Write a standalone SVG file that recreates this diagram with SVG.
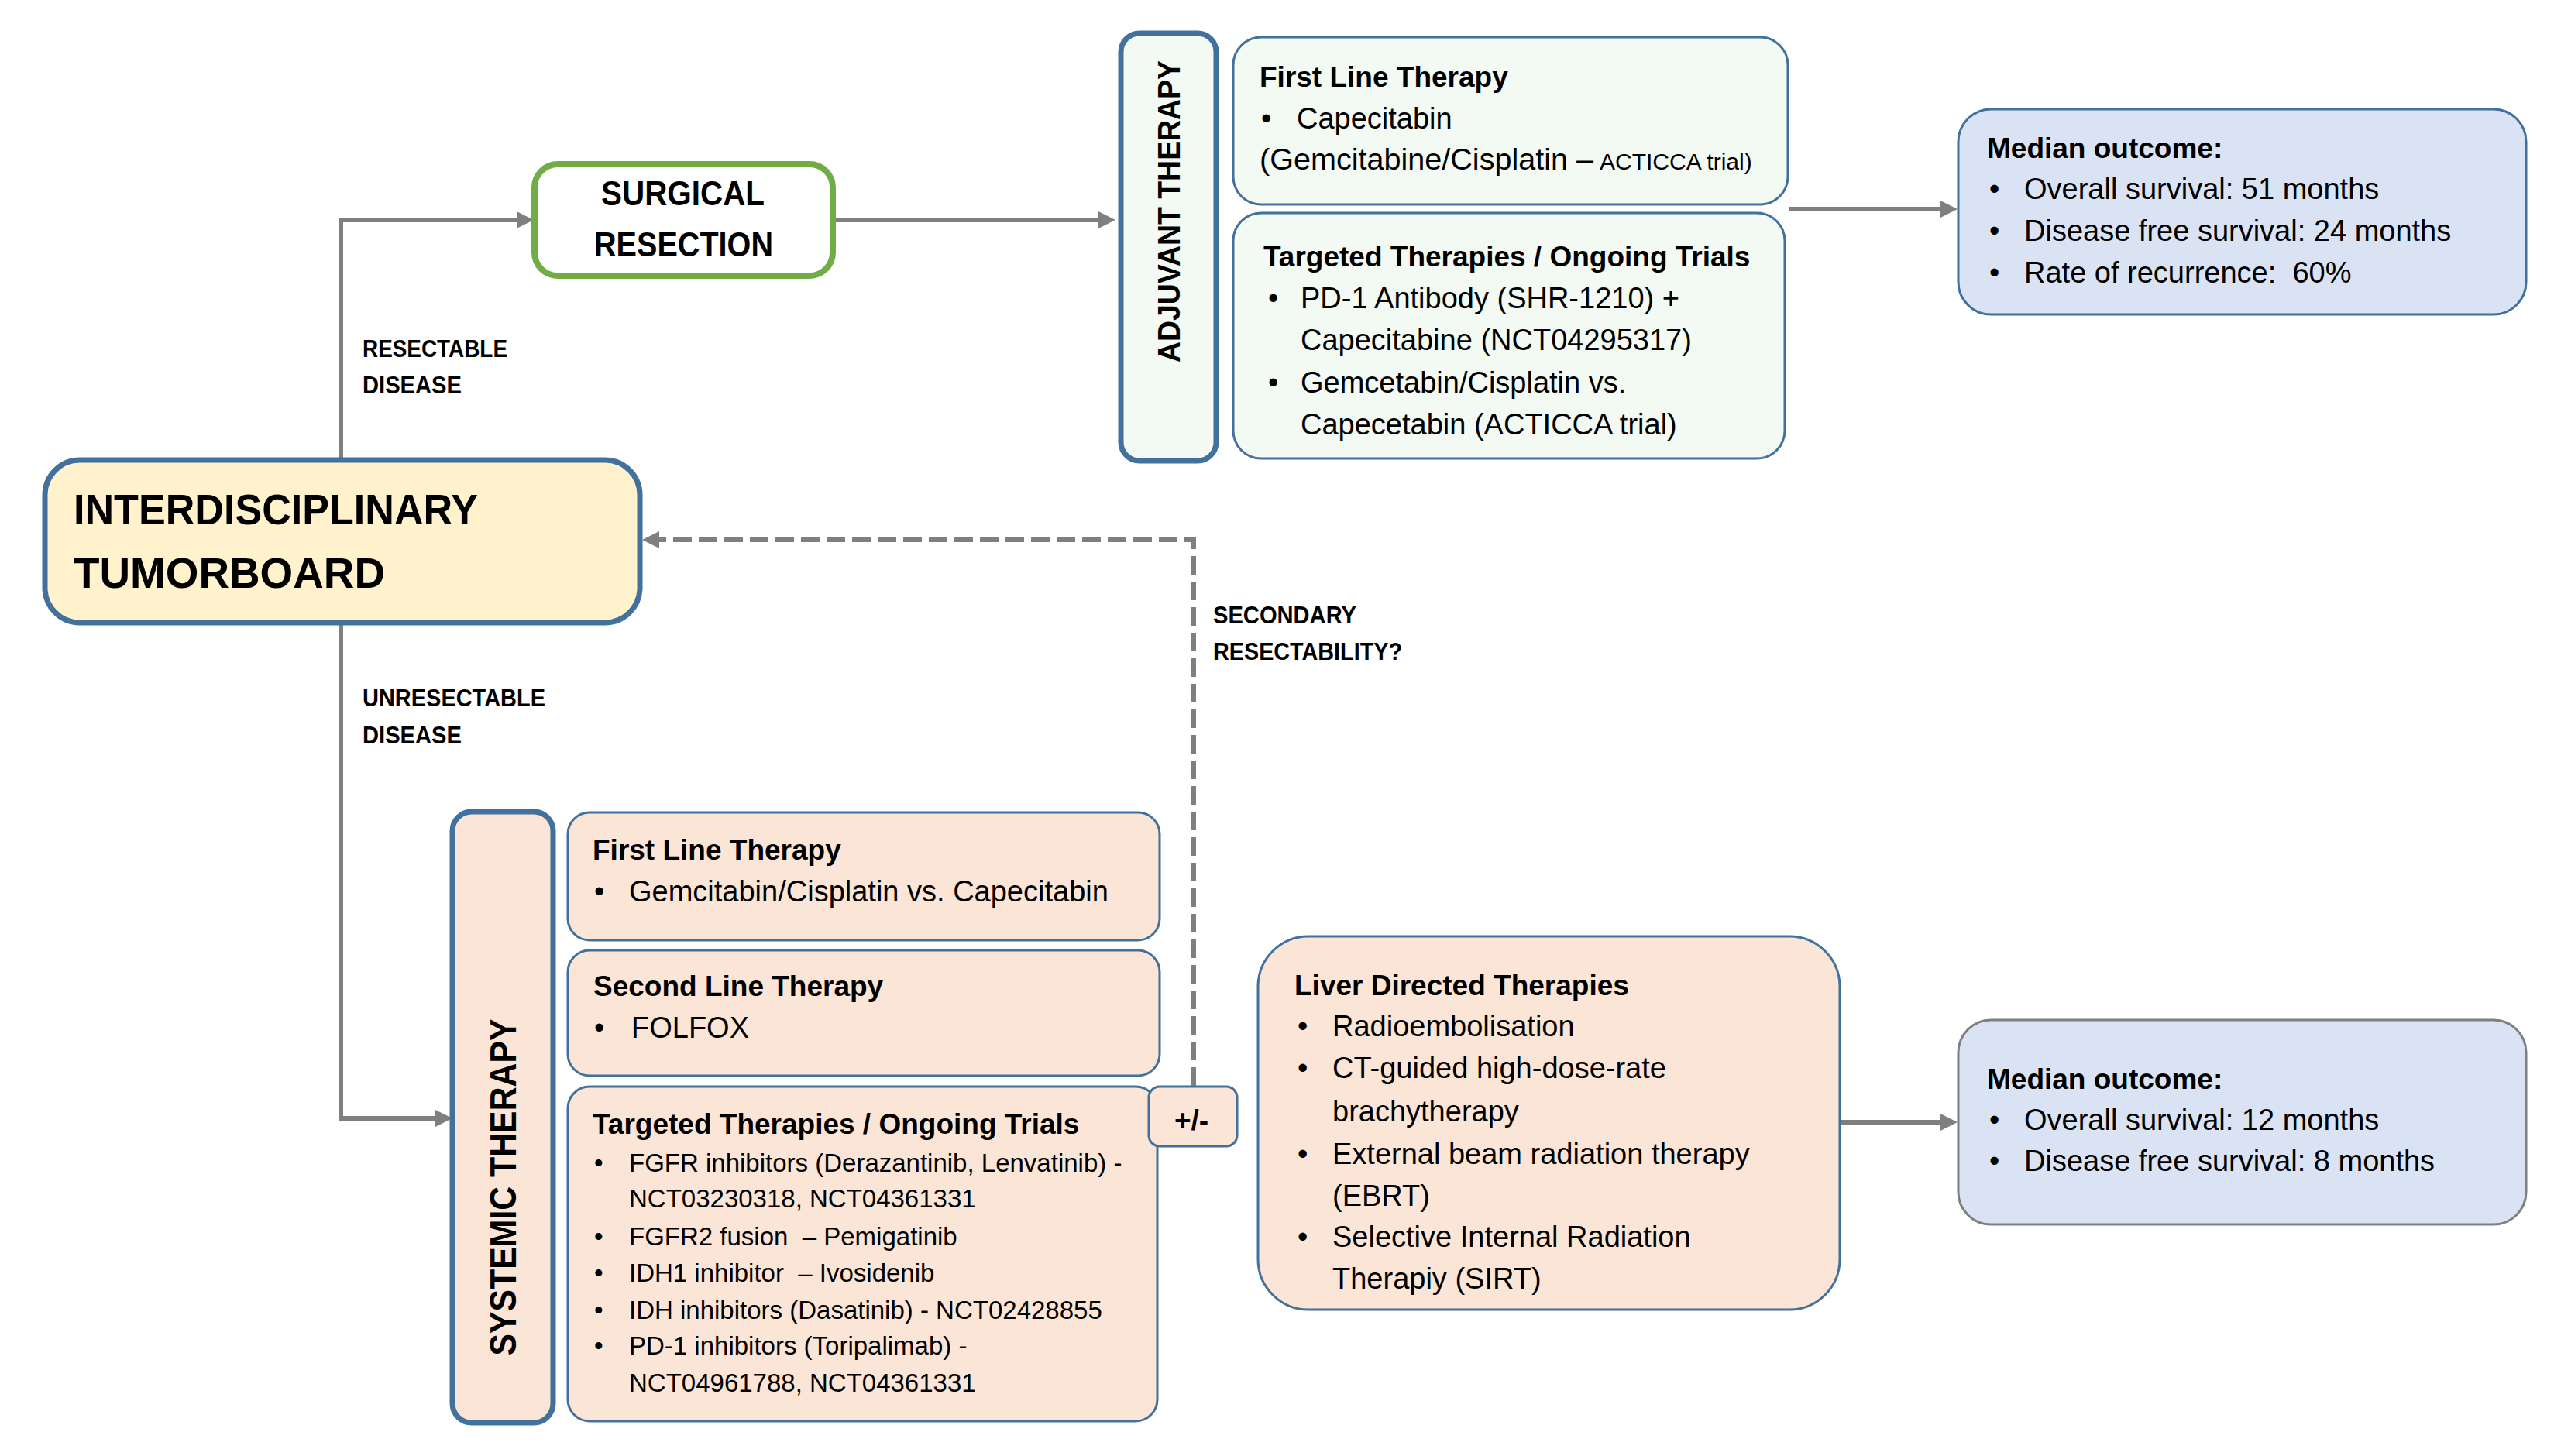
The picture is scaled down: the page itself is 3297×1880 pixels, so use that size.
<svg xmlns="http://www.w3.org/2000/svg" width="3297" height="1880" viewBox="0 0 3297 1880">
<style>
text{font-family:"Liberation Sans",Arial,sans-serif;fill:#000}
.h{font-size:37px;font-weight:bold}
.b{font-size:38px}
.s{font-size:33px}
.sm{font-size:30px}
.lbl{font-size:32px;font-weight:bold}
.big{font-size:55px;font-weight:bold}
.sr{font-size:44px;font-weight:bold}
.vt{font-weight:bold}
.con{fill:none;stroke:#7f7f7f;stroke-width:6}
.dash{stroke-dasharray:24 9}
.thickblue{stroke:#41719c;stroke-width:7}
.thinblue{stroke:#41719c;stroke-width:3}
.green{fill:#f3f9f3}
.peach{fill:#fbe5d6}
.blue{fill:#dae3f3}
</style>
<defs>
<marker id="arr" markerUnits="userSpaceOnUse" markerWidth="24" markerHeight="24" refX="8" refY="11" orient="auto">
<path d="M0,0 L22,11 L0,22 Z" fill="#7f7f7f"/>
</marker>
</defs>
<rect width="3297" height="1880" fill="#fff"/>

<g id="connectors">
<path class="con" d="M440,593 V284 H675" marker-end="url(#arr)"/>
<path class="con" d="M1077,284 H1426" marker-end="url(#arr)"/>
<path class="con" d="M2310,270 H2513" marker-end="url(#arr)"/>
<path class="con dash" d="M1541,1402 V697 H843" marker-end="url(#arr)"/>
<path class="con" d="M440,805 V1444 H570" marker-end="url(#arr)"/>
<path class="con" d="M2375,1449 H2513" marker-end="url(#arr)"/>
</g>

<g id="labels">
<text class="lbl" x="468" y="461" textLength="187" lengthAdjust="spacingAndGlyphs">RESECTABLE</text>
<text class="lbl" x="468" y="508" textLength="128" lengthAdjust="spacingAndGlyphs">DISEASE</text>
<text class="lbl" x="468" y="912" textLength="236" lengthAdjust="spacingAndGlyphs">UNRESECTABLE</text>
<text class="lbl" x="468" y="960" textLength="128" lengthAdjust="spacingAndGlyphs">DISEASE</text>
<text class="lbl" x="1566" y="805" textLength="185" lengthAdjust="spacingAndGlyphs">SECONDARY</text>
<text class="lbl" x="1566" y="852" textLength="244" lengthAdjust="spacingAndGlyphs">RESECTABILITY?</text>
</g>

<g id="tumorboard">
<rect x="58" y="594" width="768" height="210" rx="45" fill="#fff2cc" class="thickblue"/>
<text class="big" x="95" y="677" textLength="522" lengthAdjust="spacingAndGlyphs">INTERDISCIPLINARY</text>
<text class="big" x="95" y="759" textLength="402" lengthAdjust="spacingAndGlyphs">TUMORBOARD</text>
</g>

<g id="surgical-resection">
<rect x="690" y="212" width="385" height="144" rx="30" fill="#fff" stroke="#70ad47" stroke-width="8"/>
<text class="sr" x="776" y="265" textLength="211" lengthAdjust="spacingAndGlyphs">SURGICAL</text>
<text class="sr" x="767" y="331" textLength="231" lengthAdjust="spacingAndGlyphs">RESECTION</text>
</g>

<g id="adjuvant-therapy">
<rect x="1447" y="43" width="123" height="552" rx="24" class="green thickblue"/>
<text class="vt" font-size="40" transform="translate(1523,273) rotate(-90)" text-anchor="middle" textLength="390" lengthAdjust="spacingAndGlyphs">ADJUVANT THERAPY</text>
</g>

<g id="adjuvant-first-line">
<rect x="1592" y="48" width="716" height="216" rx="36" class="green thinblue"/>
<text class="h" x="1626" y="112">First Line Therapy</text>
<text class="b" x="1628" y="166">•</text>
<text class="b" x="1674" y="166">Capecitabin</text>
<text class="b" x="1626" y="219" textLength="431" lengthAdjust="spacingAndGlyphs">(Gemcitabine/Cisplatin –</text>
<text class="sm" x="2065" y="219">ACTICCA trial)</text>
</g>

<g id="adjuvant-targeted">
<rect x="1592" y="275" width="712" height="317" rx="36" class="green thinblue"/>
<text class="h" x="1631" y="344">Targeted Therapies / Ongoing Trials</text>
<text class="b" x="1637" y="398">•</text>
<text class="b" x="1679" y="398">PD-1 Antibody (SHR-1210) +</text>
<text class="b" x="1679" y="452">Capecitabine (NCT04295317)</text>
<text class="b" x="1637" y="507">•</text>
<text class="b" x="1679" y="507">Gemcetabin/Cisplatin vs.</text>
<text class="b" x="1679" y="561">Capecetabin (ACTICCA trial)</text>
</g>

<g id="median-outcome-1">
<rect x="2528" y="141" width="733" height="265" rx="42" class="blue thinblue"/>
<text class="h" font-size="38" x="2565" y="204">Median outcome:</text>
<text class="b" x="2568" y="257">•</text>
<text class="b" x="2613" y="257">Overall survival: 51 months</text>
<text class="b" x="2568" y="311">•</text>
<text class="b" x="2613" y="311">Disease free survival: 24 months</text>
<text class="b" x="2568" y="365">•</text>
<text class="b" x="2613" y="365" xml:space="preserve">Rate of recurrence:  60%</text>
</g>

<g id="systemic-therapy">
<rect x="584" y="1048" width="130" height="789" rx="25" class="peach thickblue"/>
<text class="vt" font-size="48" transform="translate(666,1533) rotate(-90)" text-anchor="middle" textLength="435" lengthAdjust="spacingAndGlyphs">SYSTEMIC THERAPY</text>
</g>

<g id="systemic-first-line">
<rect x="733" y="1049" width="764" height="165" rx="28" class="peach thinblue"/>
<text class="h" x="765" y="1110">First Line Therapy</text>
<text class="b" x="767" y="1164">•</text>
<text class="b" x="812" y="1164">Gemcitabin/Cisplatin vs. Capecitabin</text>
</g>

<g id="systemic-second-line">
<rect x="733" y="1227" width="764" height="162" rx="28" class="peach thinblue"/>
<text class="h" x="766" y="1286">Second Line Therapy</text>
<text class="b" x="767" y="1340">•</text>
<text class="b" x="815" y="1340">FOLFOX</text>
</g>

<g id="systemic-targeted">
<rect x="733" y="1403" width="761" height="432" rx="28" class="peach thinblue"/>
<text class="h" x="765" y="1464">Targeted Therapies / Ongoing Trials</text>
<text class="s" x="767" y="1513">•</text>
<text class="s" x="812" y="1513">FGFR inhibitors (Derazantinib, Lenvatinib) -</text>
<text class="s" x="812" y="1559">NCT03230318, NCT04361331</text>
<text class="s" x="767" y="1608">•</text>
<text class="s" x="812" y="1608" xml:space="preserve">FGFR2 fusion  – Pemigatinib</text>
<text class="s" x="767" y="1655">•</text>
<text class="s" x="812" y="1655" xml:space="preserve">IDH1 inhibitor  – Ivosidenib</text>
<text class="s" x="767" y="1703">•</text>
<text class="s" x="812" y="1703">IDH inhibitors (Dasatinib) - NCT02428855</text>
<text class="s" x="767" y="1749">•</text>
<text class="s" x="812" y="1749">PD-1 inhibitors (Toripalimab) -</text>
<text class="s" x="812" y="1797">NCT04961788, NCT04361331</text>
</g>

<g id="plus-minus">
<rect x="1483" y="1403" width="114" height="77" rx="14" class="peach thinblue"/>
<text class="h" font-size="38" x="1538" y="1459" text-anchor="middle">+/-</text>
</g>

<g id="liver-directed">
<rect x="1624" y="1209" width="751" height="482" rx="65" class="peach thinblue"/>
<text class="h" x="1671" y="1285">Liver Directed Therapies</text>
<text class="b" x="1675" y="1338">•</text>
<text class="b" x="1720" y="1338">Radioembolisation</text>
<text class="b" x="1675" y="1392">•</text>
<text class="b" x="1720" y="1392">CT-guided high-dose-rate</text>
<text class="b" x="1720" y="1448">brachytherapy</text>
<text class="b" x="1675" y="1503">•</text>
<text class="b" x="1720" y="1503">External beam radiation therapy</text>
<text class="b" x="1720" y="1557">(EBRT)</text>
<text class="b" x="1675" y="1610">•</text>
<text class="b" x="1720" y="1610">Selective Internal Radiation</text>
<text class="b" x="1720" y="1664">Therapiy (SIRT)</text>
</g>

<g id="median-outcome-2">
<rect x="2528" y="1317" width="733" height="264" rx="42" class="blue" stroke="#7f7f7f" stroke-width="3"/>
<text class="h" font-size="38" x="2565" y="1406">Median outcome:</text>
<text class="b" x="2568" y="1459">•</text>
<text class="b" x="2613" y="1459">Overall survival: 12 months</text>
<text class="b" x="2568" y="1512">•</text>
<text class="b" x="2613" y="1512">Disease free survival: 8 months</text>
</g>
</svg>
